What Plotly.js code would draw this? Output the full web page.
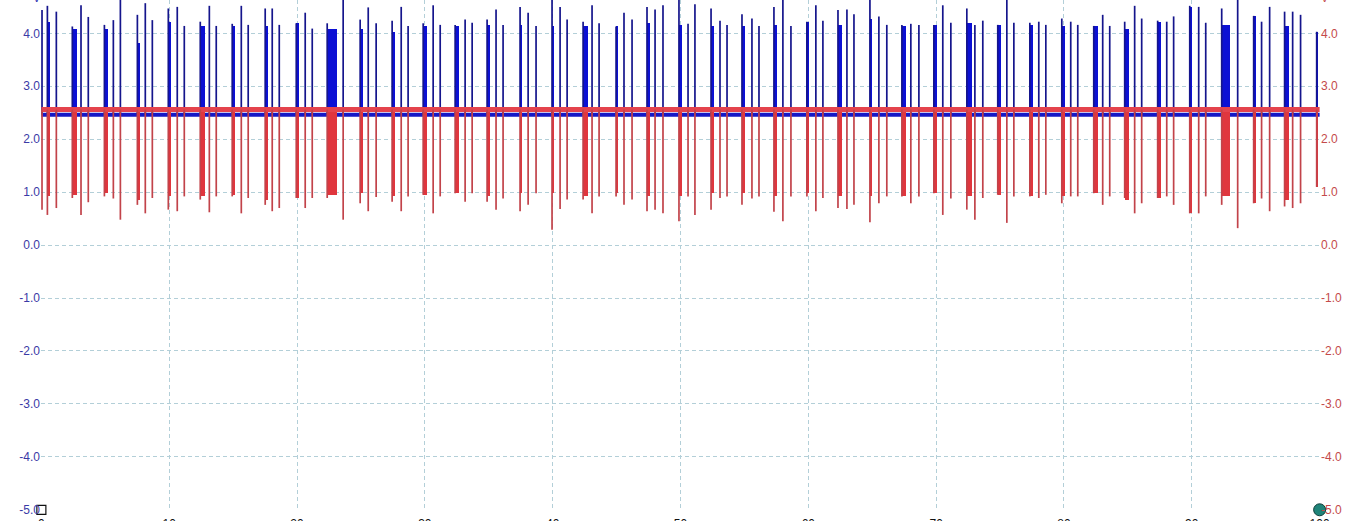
<!DOCTYPE html>
<html>
<head>
<meta charset="utf-8">
<script src="https://cdn.plot.ly/plotly-3.0.1.min.js"></script>
<style>
html,body{margin:0;padding:0;background:#fff;overflow:hidden;width:1360px;height:521px;}
#chart{width:1360px;height:546px;}
</style>
</head>
<body>
<div id="chart"></div>
<script>
// ---- Data (x in divisions, y in volts) ----
const groupStart = [0.047,0.242,0.493,0.751,0.993,1.243,1.493,1.751,1.994,2.236,2.494,2.744,2.987,3.237,3.487,3.745,3.995,4.238,4.496,4.738,4.988,5.239,5.481,5.731,5.989,6.232,6.482,6.732,6.982,7.240,7.482,7.733,7.983,8.233,8.475,8.733,8.984,9.234,9.484,9.726,9.977];
const groupEnd   = [0.070,0.281,0.524,0.766,1.016,1.282,1.517,1.775,2.009,2.314,2.518,2.768,3.018,3.268,3.511,3.761,4.011,4.277,4.511,4.762,5.012,5.262,5.504,5.755,5.997,6.263,6.497,6.763,7.005,7.279,7.506,7.756,8.006,8.264,8.507,8.757,8.999,9.296,9.500,9.758,9.984];
const spikeATime = [0.005,0.310,0.563,0.813,1.063,1.314,1.564,1.806,2.064,2.361,2.557,2.815,3.065,3.315,3.557,3.808,4.058,4.308,4.558,4.801,5.059,5.309,5.559,5.801,6.059,6.302,6.552,6.802,7.052,7.303,7.553,7.803,8.053,8.303,8.553,8.804,9.054,9.359,9.546,9.789,null];
const spikeBTime = [0.117,0.367,0.618,0.868,1.118,1.368,1.618,1.861,2.119,null,2.619,2.869,3.120,3.370,3.612,3.870,4.113,4.363,4.621,4.863,5.113,5.364,5.614,5.864,6.114,6.357,6.614,6.865,7.115,7.365,7.608,7.858,8.108,8.358,8.608,8.858,9.109,null,9.609,9.851,null];

const blueBlock = [4.22,4.09,4.09,3.81,4.22,4.13,4.13,4.13,4.19,4.09,4.09,4.03,4.13,4.13,4.16,4.16,4.13,4.13,4.13,4.19,4.16,4.13,4.13,4.16,4.22,4.16,4.28,4.14,4.16,4.19,4.16,4.16,4.13,4.14,4.09,4.22,4.50,4.16,4.33,4.13,4.03];
const blueMax   = [4.52,4.13,4.16,4.35,4.47,4.22,4.18,4.47,4.19,4.19,4.26,4.24,4.19,4.16,4.26,4.50,4.63,4.22,4.13,4.50,4.63,4.47,4.36,4.50,4.22,4.44,4.63,4.16,4.16,4.47,4.16,4.20,4.28,4.14,4.22,4.24,4.52,4.47,4.33,4.41,4.03];
const blueA     = [4.44,4.53,4.25,4.57,4.50,4.52,4.52,4.47,4.39,4.63,4.49,4.50,4.53,4.26,4.45,4.39,4.50,4.53,4.39,4.45,4.18,4.24,4.28,4.63,4.53,4.45,4.32,4.18,4.53,4.16,4.63,4.22,4.22,4.35,4.52,4.22,4.50,4.63,4.22,4.41,null];
const blueB     = [4.41,4.31,4.63,4.25,4.14,4.14,4.16,4.16,4.09,null,4.19,4.14,4.16,4.20,4.16,4.14,4.26,4.19,4.26,4.53,4.55,4.16,4.14,4.14,4.24,4.36,4.16,4.16,4.20,4.24,4.20,4.16,4.16,4.14,4.28,4.32,4.20,null,4.50,4.35,null];

const redBlock = [0.92,0.95,0.98,0.86,0.92,0.92,0.95,0.86,0.89,0.95,0.98,0.92,0.95,0.98,0.92,0.98,0.98,0.92,0.98,0.92,0.92,0.98,0.98,0.92,0.98,0.92,0.92,0.92,0.98,0.92,0.95,0.92,0.92,0.98,0.86,0.89,0.60,0.92,0.79,0.86,1.10];
const redMin   = [0.57,0.89,0.92,0.76,0.67,0.86,0.92,0.76,0.89,0.89,0.79,0.82,0.95,0.98,0.82,0.64,0.29,0.86,0.92,0.64,0.45,0.67,0.76,0.63,0.92,0.70,0.43,0.92,0.98,0.67,0.95,0.92,0.79,0.98,0.89,0.89,0.60,0.76,0.79,0.73,1.10];
const redA     = [0.67,0.57,0.88,0.60,0.64,0.62,0.60,0.64,0.70,0.48,0.64,0.64,0.60,0.82,0.67,0.76,0.68,0.60,0.76,0.67,0.92,0.89,0.88,0.45,0.64,0.68,0.79,0.79,0.57,0.48,0.42,0.89,0.92,0.76,0.60,0.92,0.60,0.32,0.88,0.70,null];
const redB     = [0.70,0.81,0.48,0.89,0.92,0.92,0.89,0.70,0.89,null,0.91,0.92,0.92,0.98,0.88,0.98,0.86,0.92,0.86,0.60,0.57,0.92,0.92,0.92,0.89,0.76,0.92,0.92,0.88,0.89,0.92,0.95,0.92,0.92,0.79,0.76,0.92,null,0.64,0.79,null];

const blueBaseLevel = 2.46;   // channel A resting level
const redBaseLevel  = 2.56;   // channel B resting level

const xTickVals = [0,1,2,3,4,5,6,7,8,9,10];
const xTickText = ['0','10','20','30','40','50','60','70','80','90','100'];
const yTickVals = [-5,-4,-3,-2,-1,0,1,2,3,4];
const yTickText = ['-5.0','-4.0','-3.0','-2.0','-1.0','0.0','1.0','2.0','3.0','4.0'];
const cursorX = [0, 10];
const cursorY = [-5, -5];

// ---- Build traces ----
const X0 = 0, X1 = 10;
function spikeTrace(timeLists, peakLists, base, color, width, yaxis) {
  const x = [], y = [];
  for (let k = 0; k < timeLists.length; k++) {
    const ts = timeLists[k], ps = peakLists[k];
    for (let i = 0; i < ts.length; i++) {
      if (ts[i] === null || ps[i] === null) continue;
      x.push(ts[i], ts[i], null);
      y.push(base, ps[i], null);
    }
  }
  return {type:'scatter', mode:'lines', x, y, yaxis, hoverinfo:'skip',
          line:{color, width}, connectgaps:false, showlegend:false};
}
function burstTrace(levels, base, color, yaxis) {
  const x = [], w = [], y = [], b = [];
  for (let i = 0; i < groupStart.length; i++) {
    x.push((groupStart[i] + groupEnd[i]) / 2);
    w.push(Math.max(groupEnd[i] - groupStart[i], 0.02));
    y.push(levels[i] - base);
    b.push(base);
  }
  return {type:'bar', x, y, base:b, width:w, yaxis, hoverinfo:'skip',
          marker:{color, line:{width:0}}, showlegend:false};
}
function baseTrace(level, color, width, yaxis) {
  return {type:'scatter', mode:'lines', x:[X0, X1], y:[level, level], yaxis,
          hoverinfo:'skip', line:{color, width}, showlegend:false};
}

const traces = [
  baseTrace(redBaseLevel, '#e4434d', 5, 'y2'),
  burstTrace(redBlock, redBaseLevel, '#e0363e', 'y2'),
  spikeTrace([groupStart, spikeATime, spikeBTime], [redMin, redA, redB], redBaseLevel, '#c2434a', 1.7, 'y2'),
  baseTrace(blueBaseLevel, '#1518c6', 4, 'y'),
  burstTrace(blueBlock, blueBaseLevel, '#0c10d4', 'y'),
  spikeTrace([groupStart, spikeATime, spikeBTime], [blueMax, blueA, blueB], blueBaseLevel, '#15158c', 1.7, 'y'),
  {type:'scatter', mode:'markers', x:[cursorX[0]], y:[cursorY[0]], cliponaxis:false, hoverinfo:'skip', showlegend:false,
   marker:{symbol:'square-open', size:9, color:'#111', line:{width:1.2, color:'#111'}}},
  {type:'scatter', mode:'markers', x:[cursorX[1]], y:[cursorY[1]], cliponaxis:false, hoverinfo:'skip', showlegend:false,
   marker:{symbol:'circle', size:12, color:'#1f8479', line:{width:1, color:'#0f3f3a'}}}
];

const gridColor = '#b3cfd8';
const yRange = [-5.004, 4.63];
const layout = {
  width:1360, height:546,
  margin:{l:41, r:40, t:0, b:36},
  paper_bgcolor:'#ffffff', plot_bgcolor:'#ffffff',
  barmode:'overlay', bargap:0,
  font:{family:'"Liberation Sans", Arial, sans-serif', size:12},
  xaxis:{range:[-0.003, 10.003], tickvals:xTickVals, ticktext:xTickText, showgrid:true, gridcolor:gridColor,
         griddash:'4px,3px', gridwidth:1, zeroline:false, showline:false, ticks:'', ticklabelstandoff:5,
         tickfont:{color:'#111', size:12}, fixedrange:true},
  yaxis:{range:yRange, tickvals:yTickVals, ticktext:yTickText, showgrid:true, gridcolor:gridColor,
         griddash:'4px,3px', gridwidth:1, zeroline:false, showline:false, ticks:'',
         tickfont:{color:'#3a3aa6', size:12}, fixedrange:true},
  yaxis2:{range:yRange, tickvals:yTickVals, ticktext:yTickText, overlaying:'y', side:'right', showgrid:false,
          zeroline:false, showline:false, ticks:'', tickfont:{color:'#c44a4a', size:12}, fixedrange:true},
  annotations:[
    {xref:'paper', yref:'paper', x:0, y:1, xshift:-4, yshift:-6, yanchor:'bottom', xanchor:'center',
     text:'V', showarrow:false, font:{color:'#2a2ab0', size:11}},
    {xref:'paper', yref:'paper', x:1, y:1, xshift:5, yshift:-6, yanchor:'bottom', xanchor:'center',
     text:'V', showarrow:false, font:{color:'#c44a4a', size:11}}
  ],
  showlegend:false
};

Plotly.newPlot('chart', traces, layout, {displayModeBar:false, staticPlot:true});
</script>
</body>
</html>
